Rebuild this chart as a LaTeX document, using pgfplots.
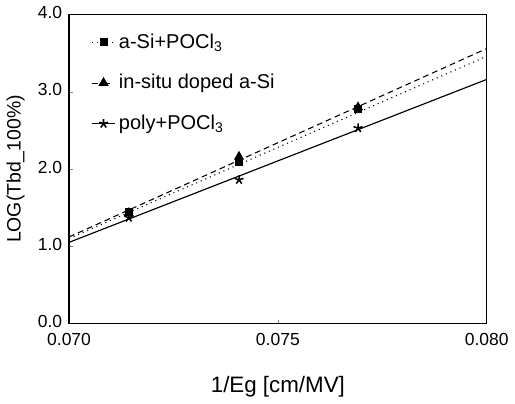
\documentclass[border=0pt]{standalone}
\usepackage{pgfplots}
\pgfplotsset{compat=1.18}
\usepackage{fontspec}
\setmainfont{Liberation Sans}
\usetikzlibrary{plotmarks}
\begin{document}
\begin{tikzpicture}
\begin{axis}[
  name=ax,
  scale only axis,
  width=215pt, height=159pt,
  xmin=0.070, xmax=0.080, ymin=0, ymax=4,
  xtick={0.070,0.075,0.080},
  ytick={0,1,2,3,4},
  xticklabel style={yshift=-1.5pt, /pgf/number format/.cd, fixed, fixed zerofill, precision=3},
  yticklabel style={yshift=1pt, /pgf/number format/.cd, fixed, fixed zerofill, precision=1},
  /pgf/number format/assume math mode=true,
  scaled x ticks=false,
  tick align=inside, xtick pos=bottom, ytick pos=left,
  major tick length=2pt,
  tick label style={font=\fontsize{9}{10}\selectfont},
  xlabel={1/Eg [cm/MV]},
  ylabel={LOG(Tbd\_100\%)},
  xlabel style={font=\fontsize{11.5}{13}\selectfont, yshift=-9pt},
  ylabel style={font=\fontsize{10}{12}\selectfont},
  axis line style={line width=0.6pt},
  legend style={draw=none, fill=none, at={(0.04,0.965)}, anchor=north west,
    font=\fontsize{10.3}{12}\selectfont, row sep=8pt,
    /tikz/every even column/.append style={column sep=1pt}},
  legend cell align=left,
  legend image code/.code={\draw[mark repeat=2,mark phase=2] plot coordinates {(0cm,0cm) (0.2cm,0cm) (0.4cm,0cm)};},
]
\addlegendimage{black, line width=0.5pt, dotted, mark=square*, mark size=1.8pt, mark options={solid}}
\addlegendentry{a-Si+POCl\textsubscript{3}}
\addlegendimage{black, line width=0.5pt, dashed, mark=triangle*, mark size=2.6pt, mark options={solid}}
\addlegendentry{in-situ doped a-Si}
\addlegendimage{black, line width=0.5pt, mark=star, mark size=2.4pt, mark options={solid, line width=0.8pt}}
\addlegendentry{poly+POCl\textsubscript{3}}

% fitted lines
\addplot[forget plot, black, line width=0.55pt, dotted] coordinates {(0.070,1.10) (0.080,3.46)};
\addplot[forget plot, black, line width=0.55pt, dash pattern=on 3pt off 2pt] coordinates {(0.070,1.12) (0.080,3.56)};
\addplot[forget plot, black, line width=0.6pt] coordinates {(0.070,1.05) (0.080,3.16)};

% data points
\addplot[forget plot, only marks, mark=square*, mark size=1.8pt, black] coordinates {
  (0.07143,1.45) (0.07407,2.09) (0.07692,2.78)};
\addplot[forget plot, only marks, mark=triangle*, mark size=2.6pt, black] coordinates {
  (0.07143,1.43) (0.07407,2.16) (0.07692,2.80)};
\addplot[forget plot, only marks, mark=star, mark size=2.4pt, black, mark options={line width=0.8pt}] coordinates {
  (0.07143,1.37) (0.07407,1.86) (0.07692,2.53)};
\end{axis}
\path ([shift={(-31pt,-34pt)}]ax.south west) rectangle ([shift={(12pt,7pt)}]ax.north east);
\end{tikzpicture}
\end{document}
